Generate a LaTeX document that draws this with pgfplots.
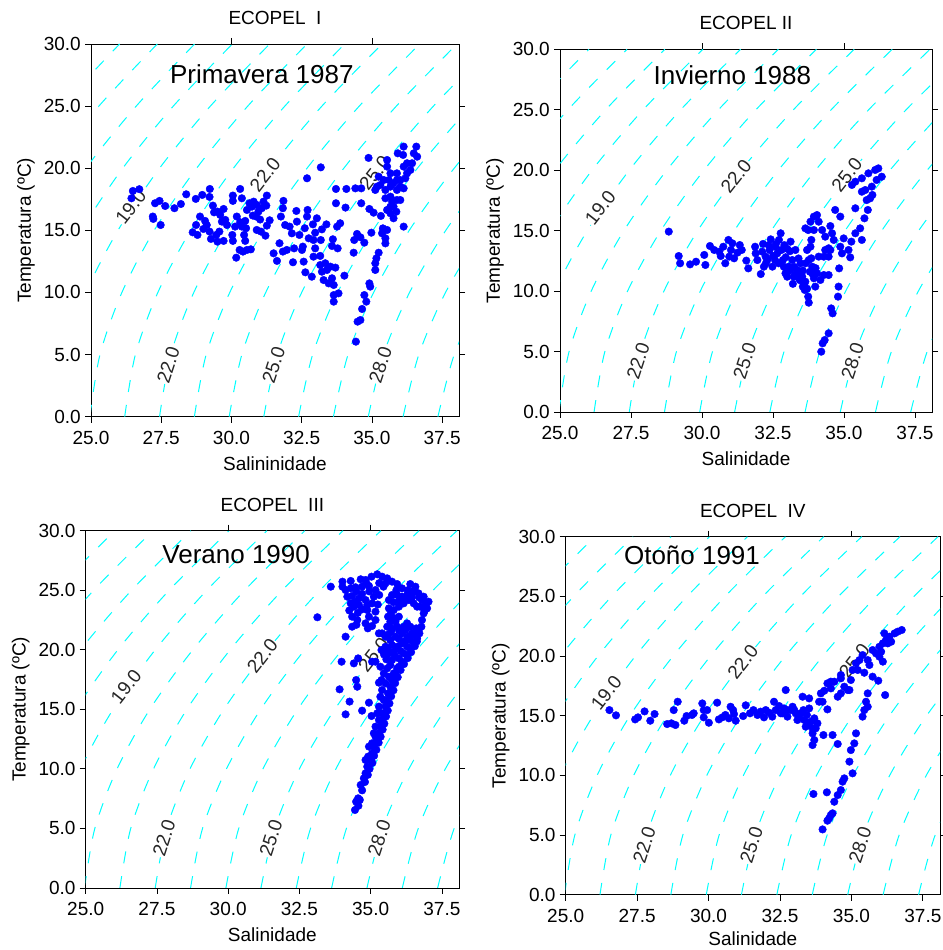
\documentclass[border=0pt]{standalone}
\usepackage{fontspec}
\setmainfont{Liberation Sans}
\usepackage{pgfplots}
\usepackage{pgfplotstable}
\pgfplotsset{compat=1.18}
\definecolor{isocyan}{RGB}{0,255,255}
\definecolor{ptblue}{RGB}{0,0,255}

\newcommand{\fs}{\fontsize{19}{22}\selectfont}
\newcommand{\fb}{\fontsize{26}{30}\selectfont}

\pgfplotstableread{
S T
26.49 18.17
26.72 18.31
26.44 17.58
27.20 16.11
27.22 15.92
27.48 15.43
27.28 17.18
27.44 17.37
27.64 16.96
27.97 16.78
28.20 17.12
28.39 17.90
28.73 17.53
28.96 17.85
29.23 18.33
29.22 17.69
28.62 14.84
28.74 15.43
28.79 14.63
28.88 16.11
29.06 15.76
29.00 15.11
29.12 15.43
29.22 14.90
29.27 14.31
29.34 16.99
29.38 16.45
29.50 16.51
29.50 14.09
29.72 16.72
29.60 16.24
29.78 15.84
29.66 15.70
29.84 15.43
29.57 14.90
29.46 14.63
29.72 14.15
30.03 14.63
30.05 14.15
30.19 16.11
30.31 15.65
30.13 15.30
30.37 15.30
30.49 15.76
30.52 15.17
30.45 14.63
30.49 14.15
30.29 13.42
30.41 13.29
30.55 13.42
30.69 13.47
30.17 12.80
30.05 17.80
30.05 17.37
30.31 18.33
30.37 17.58
30.55 16.64
30.64 17.18
30.73 16.91
30.79 17.31
30.90 17.04
30.96 16.51
30.88 16.11
30.76 16.19
31.02 15.87
31.08 16.78
31.14 17.31
31.26 17.80
31.24 16.99
31.36 15.81
31.26 15.38
30.90 15.03
31.05 14.90
31.21 14.57
31.50 13.15
31.62 12.54
31.71 13.96
31.76 16.11
31.83 16.78
31.85 17.37
31.91 15.43
31.83 13.29
31.97 13.42
32.07 15.30
32.15 14.76
32.23 13.55
32.19 12.43
32.31 16.56
32.33 15.70
32.42 14.63
32.51 13.42
32.57 12.48
32.63 11.62
32.69 16.11
32.71 16.64
32.54 13.69
32.61 15.17
32.75 14.36
32.69 19.19
33.04 15.97
32.90 15.48
32.98 14.81
33.22 15.08
33.38 15.48
32.92 14.22
33.18 14.22
32.98 13.55
33.61 14.28
33.58 13.74
33.78 13.55
33.76 15.30
33.87 15.57
32.92 12.88
33.16 12.94
32.86 11.27
33.16 12.21
33.34 12.35
33.52 12.08
33.70 12.00
33.22 11.67
33.40 11.81
33.28 11.00
33.46 10.73
33.64 10.60
33.58 11.14
34.02 11.35
33.64 9.79
33.81 9.93
33.64 9.26
34.35 13.20
34.37 14.22
34.47 14.71
34.59 14.44
34.73 14.01
34.98 14.81
35.24 13.20
35.16 12.75
35.12 12.35
35.12 11.81
34.91 10.73
34.94 10.47
34.73 9.79
34.80 9.26
34.65 8.67
34.59 7.78
34.49 7.65
34.43 6.04
33.18 20.07
33.72 18.33
34.09 18.33
34.41 18.38
34.62 18.38
33.72 17.18
34.06 16.83
34.62 17.18
34.88 20.83
34.91 16.72
35.06 16.42
35.32 16.16
35.54 20.66
35.54 20.13
35.92 21.20
36.13 21.74
36.58 21.74
36.61 20.93
36.11 21.07
36.49 21.20
36.43 20.40
35.24 19.32
35.18 18.52
35.12 18.25
35.42 19.05
35.66 19.59
35.89 19.59
36.13 20.13
36.25 20.40
36.37 19.86
36.01 19.05
35.66 18.52
35.48 18.25
35.66 17.71
35.89 17.44
35.77 16.91
36.01 17.44
35.54 16.64
35.66 16.37
35.77 15.97
36.13 18.38
35.39 15.16
35.54 15.03
35.36 14.76
35.48 14.36
35.48 13.95
36.13 15.30
35.89 19.05
35.77 18.79
36.01 18.52
35.89 18.25
35.60 19.05
35.72 17.31
35.87 16.50
35.66 16.91
35.48 17.58
35.30 18.65
36.25 19.59
36.19 19.19
}\dataA

\pgfplotstableread{
S T
28.83 14.92
29.18 12.90
29.23 12.30
29.58 12.21
29.79 12.43
30.08 12.99
30.12 12.16
30.28 13.73
30.43 13.40
30.61 13.26
30.66 12.90
30.82 12.30
30.75 13.67
30.93 14.23
31.02 13.40
31.07 13.95
30.96 12.85
31.13 12.71
31.25 13.18
31.33 13.81
31.40 13.40
31.56 12.52
31.63 11.88
31.87 13.67
31.89 13.12
31.95 12.57
32.07 11.41
32.18 12.02
32.12 13.26
32.24 12.85
32.30 12.57
32.38 13.40
32.42 14.28
32.48 12.02
32.57 12.57
32.59 13.67
32.65 13.12
32.71 14.23
32.77 14.78
32.80 13.40
32.85 12.57
32.88 12.02
32.94 11.47
33.00 11.19
33.06 12.02
33.12 14.09
33.18 12.57
33.23 11.19
33.29 13.40
33.35 11.74
33.41 11.06
33.47 12.30
33.53 11.19
33.55 10.37
33.64 10.78
33.62 10.09
33.74 9.54
33.76 9.04
33.70 13.40
33.76 12.57
33.88 12.02
33.94 11.06
34.05 11.47
33.99 10.37
34.17 10.92
34.29 11.33
34.46 11.33
33.85 12.71
33.82 13.67
33.85 14.23
33.74 15.05
33.64 15.19
33.82 15.74
33.94 16.16
34.05 16.29
34.11 15.74
33.94 15.05
34.23 15.05
34.34 14.50
34.11 12.85
34.29 12.85
34.46 13.54
34.52 13.40
34.58 14.78
34.64 14.23
34.52 15.38
34.69 16.71
34.87 16.16
34.34 13.40
34.46 12.85
34.87 13.67
34.93 13.12
34.99 14.36
34.83 11.88
34.81 10.37
34.79 9.54
34.55 8.57
34.60 8.16
34.46 6.51
34.32 5.95
34.25 5.68
34.20 4.99
35.16 13.40
35.22 12.79
35.26 14.09
35.40 14.78
35.57 15.19
35.63 14.23
35.72 16.02
35.84 16.71
35.40 16.85
35.63 18.22
35.80 17.53
35.92 17.67
36.00 17.95
35.28 18.78
35.40 19.05
35.63 19.33
35.86 19.74
36.10 20.02
36.21 20.15
36.33 19.46
36.15 19.19
35.98 18.64
35.75 18.36
32.50 12.90
32.70 12.30
32.95 12.80
33.10 13.30
33.25 12.00
33.40 12.70
33.55 11.70
33.65 12.30
33.30 11.40
33.50 11.50
33.80 11.60
33.60 10.60
33.70 10.20
33.45 10.90
32.60 13.90
32.90 13.80
33.00 13.50
32.35 13.80
32.15 13.90
32.25 12.30
33.20 10.60
33.90 11.40
34.00 11.90
33.10 11.70
}\dataB

\pgfplotstableread{
S T
33.13 22.73
33.60 25.30
34.01 25.72
34.30 25.78
34.65 25.92
34.82 25.86
35.03 26.14
35.23 26.34
35.40 26.14
35.58 26.00
35.75 25.72
35.93 25.52
35.52 25.58
34.01 25.30
34.12 25.02
34.30 25.16
34.47 25.25
34.70 25.30
34.94 25.36
35.17 25.02
34.18 24.46
34.35 24.52
34.59 24.32
34.82 24.18
34.30 23.90
34.41 23.62
34.59 23.76
34.88 23.76
35.11 24.46
34.35 22.78
34.53 22.50
34.35 21.94
34.88 23.34
34.94 22.78
34.82 22.22
35.17 23.20
35.17 22.50
34.12 21.10
35.05 19.00
33.98 19.00
34.41 18.86
34.56 19.28
34.49 17.46
34.53 16.90
33.91 16.68
34.26 15.65
34.12 14.58
34.70 14.89
34.94 15.56
35.03 14.44
35.17 19.00
35.34 18.58
35.29 17.24
35.38 19.98
35.29 21.38
36.10 25.16
36.39 25.52
36.57 25.30
36.68 24.74
36.86 24.46
37.03 24.04
36.98 23.48
36.86 23.06
36.80 22.50
36.78 21.94
36.71 21.38
36.63 20.96
36.51 20.54
36.39 20.12
36.28 19.56
36.10 19.00
35.99 18.58
35.87 18.02
35.75 17.46
35.69 16.90
35.61 16.34
35.54 15.78
35.52 15.23
35.46 14.67
35.40 14.11
35.34 13.55
35.29 12.99
35.23 12.43
35.11 11.87
35.05 11.31
35.00 10.75
34.88 10.19
34.82 9.63
34.76 9.21
34.65 8.65
34.56 7.53
34.49 7.25
34.45 6.55
35.64 24.18
35.75 24.60
35.93 24.60
36.10 24.46
36.28 24.60
36.45 24.88
36.34 24.18
36.16 23.90
35.99 23.62
35.81 23.34
35.64 23.48
35.61 22.78
35.69 22.36
35.87 22.36
35.99 22.78
35.93 21.94
35.75 21.80
35.58 21.94
35.40 21.38
35.52 21.10
35.69 20.82
35.87 21.10
36.10 21.38
36.22 21.66
36.39 21.94
36.63 23.62
36.51 23.90
36.28 22.22
36.16 21.94
36.74 23.62
36.92 23.62
36.80 24.18
35.52 20.26
35.64 19.70
35.75 19.14
35.69 18.72
35.58 18.44
35.46 18.02
35.64 17.74
35.81 18.02
35.93 18.44
35.99 19.28
36.16 19.70
36.28 20.26
36.39 20.82
36.45 21.38
36.28 20.96
36.10 20.54
35.93 20.26
35.81 19.84
35.38 17.46
35.52 17.18
35.40 16.62
35.34 16.06
35.46 15.78
35.29 15.23
35.23 14.67
35.38 14.67
35.29 14.11
35.17 13.55
35.11 12.99
35.17 12.71
35.05 12.15
34.94 11.87
34.91 11.03
34.82 10.75
35.05 11.03
34.57 6.90
34.62 7.40
34.70 8.20
34.80 8.90
34.90 9.50
34.96 10.00
35.06 10.50
35.12 11.10
35.20 11.60
35.28 12.20
35.35 12.70
35.42 13.30
35.48 13.80
35.54 14.40
35.60 14.90
35.66 15.50
35.72 16.10
35.80 16.60
35.86 17.20
35.95 17.70
36.05 18.30
36.17 18.80
36.30 19.30
36.42 19.80
36.55 20.30
36.62 20.70
36.68 21.60
36.90 23.30
36.95 23.90
36.70 24.40
36.45 24.40
36.20 24.20
36.00 24.10
35.80 24.00
35.70 23.00
35.78 22.70
35.72 21.50
35.62 21.30
36.00 21.60
36.00 20.90
36.20 20.70
35.75 20.40
35.60 20.00
35.47 19.60
35.55 19.20
35.85 19.50
36.05 19.90
36.30 21.10
36.55 21.20
36.60 21.80
35.90 25.00
36.30 25.00
36.55 24.90
35.45 25.30
35.30 25.60
34.85 25.60
34.50 24.90
34.70 24.70
34.95 24.90
34.45 24.00
34.70 23.40
34.55 23.10
34.25 23.30
34.50 22.10
35.05 23.90
35.05 22.00
34.90 21.80
35.25 23.80
35.30 24.60
}\dataC

\pgfplotstableread{
S T
26.53 15.47
26.76 15.03
27.43 14.69
27.53 14.86
27.76 15.36
27.96 14.58
28.11 15.14
28.55 14.30
28.70 14.36
28.84 14.22
28.78 15.47
28.92 16.17
29.15 14.58
29.23 14.97
29.42 15.06
29.48 15.20
29.78 16.03
29.83 15.47
29.83 14.86
30.01 14.41
29.95 15.47
30.30 16.09
30.36 14.69
30.48 14.86
30.59 15.06
30.71 14.78
30.77 15.75
30.86 15.47
30.95 14.58
30.89 15.14
31.30 15.87
31.21 14.97
31.45 15.20
31.57 15.47
31.71 15.06
31.82 15.34
32.00 15.47
31.94 14.86
32.12 15.25
32.23 14.92
32.29 16.17
32.35 15.47
32.47 15.81
32.58 15.20
32.64 15.61
32.70 17.15
32.76 14.92
32.88 15.47
32.94 15.75
33.05 15.20
33.17 14.86
33.29 16.59
33.32 15.47
33.35 14.64
33.44 15.06
33.52 15.61
33.46 14.22
33.52 16.45
33.58 14.50
33.64 13.94
33.64 13.52
33.70 14.78
33.81 14.36
33.64 12.54
33.70 12.96
33.75 13.94
33.87 16.17
33.93 16.87
33.99 16.17
34.05 17.09
34.16 15.53
34.02 13.38
34.16 17.71
34.28 17.29
34.40 17.85
34.34 13.38
34.52 12.63
34.52 16.59
34.63 16.87
34.63 18.41
34.75 17.43
34.87 17.15
34.98 17.99
34.93 17.15
35.04 18.83
35.16 19.39
35.28 19.66
35.39 20.08
35.45 18.60
35.57 19.66
35.63 19.25
35.74 20.50
35.86 20.22
35.98 20.78
35.98 19.94
36.10 21.06
36.21 21.34
36.33 21.62
36.39 21.20
36.51 21.90
36.62 22.04
36.76 22.18
36.15 21.90
36.10 19.53
35.74 18.27
35.94 17.93
36.18 16.73
35.57 16.87
35.51 16.17
35.57 15.75
35.39 14.92
35.45 15.47
35.16 13.52
35.10 12.68
34.98 12.12
34.93 11.15
35.04 10.17
34.75 9.75
34.69 9.47
34.63 8.77
34.52 8.35
34.40 7.79
34.34 6.82
34.28 6.68
34.22 6.40
34.16 6.20
33.99 5.47
33.67 8.44
34.14 8.58
34.28 17.85
34.63 18.13
35.22 18.83
36.27 21.06
36.04 20.36
32.53 15.20
32.76 15.47
33.00 15.47
33.23 15.20
33.11 14.64
33.40 14.08
}\dataD

\tikzset{lab/.style={fill=white, inner sep=1pt, font=\fs, text=black!85}}

\pgfplotsset{
  iso/.style={color=isocyan, line width=1pt, dash pattern=on 12pt off 13pt, smooth, no markers},
  pts/.style={only marks, mark=*, mark size=3.8pt, color=ptblue, mark options={fill=ptblue, draw=ptblue}},
  tsax/.style={
    scale only axis,
    xmin=25, xmax=38.1, ymin=0, ymax=30,
    xtick={25,27.5,30,32.5,35,37.5},
    xticklabels={25.0,27.5,30.0,32.5,35.0,37.5},
    ytick={0,5,10,15,20,25,30},
    yticklabels={0.0,5.0,10.0,15.0,20.0,25.0,30.0},
    tick align=outside,
    xtick pos=left, ytick pos=left,
    major tick length=6pt,
    every tick/.style={black, line width=0.8pt},
    axis line style={black, line width=0.8pt},
    ticklabel style={font=\fs},
    yticklabel style={anchor=east, inner sep=0pt, xshift=-4pt},
    xticklabel style={anchor=north, inner sep=0pt, yshift=-8pt},
    every axis title/.style={at={(0.5,1)}, anchor=center, yshift=26pt, font=\fs},
    every axis x label/.style={at={(0.5,0)}, anchor=center, yshift=-47pt, font=\fs},
    every axis y label/.style={at={(0,0.5)}, xshift=-65pt, rotate=90, anchor=center, font=\fs},
  },
  tstk/.style={
    scale only axis,
    xmin=25, xmax=38.1, ymin=0, ymax=30,
    axis line style={draw=none},
    xtick={30,35}, ytick={5,10,15,20,25},
    xtick pos=right, ytick pos=right,
    tick align=outside,
    xticklabels={}, yticklabels={},
    major tick length=6pt,
    every tick/.style={black, line width=0.8pt},
  },
}

\newcommand{\isolines}{%
\addplot[iso] coordinates {(18.77,0)(19.02,5)(19.70,10)(20.77,15)(22.20,20)(23.96,25)(26.02,30)};
\addplot[iso] coordinates {(20.01,0)(20.28,5)(20.98,10)(22.07,15)(23.51,20)(25.28,25)(27.36,30)};
\addplot[iso] coordinates {(21.25,0)(21.54,5)(22.26,10)(23.36,15)(24.82,20)(26.61,25)(28.69,30)};
\addplot[iso] coordinates {(22.48,0)(22.80,5)(23.54,10)(24.66,15)(26.13,20)(27.93,25)(30.03,30)};
\addplot[iso] coordinates {(23.72,0)(24.06,5)(24.82,10)(25.96,15)(27.44,20)(29.25,25)(31.36,30)};
\addplot[iso] coordinates {(24.96,0)(25.32,5)(26.10,10)(27.25,15)(28.76,20)(30.58,25)(32.69,30)};
\addplot[iso] coordinates {(26.20,0)(26.58,5)(27.38,10)(28.55,15)(30.07,20)(31.90,25)(34.03,30)};
\addplot[iso] coordinates {(27.44,0)(27.84,5)(28.66,10)(29.85,15)(31.38,20)(33.22,25)(35.36,30)};
\addplot[iso] coordinates {(28.68,0)(29.10,5)(29.94,10)(31.14,15)(32.69,20)(34.55,25)(36.70,30)};
\addplot[iso] coordinates {(29.92,0)(30.37,5)(31.22,10)(32.44,15)(34.00,20)(35.87,25)(38.03,30)};
\addplot[iso] coordinates {(31.15,0)(31.63,5)(32.50,10)(33.74,15)(35.31,20)(37.19,25)(39.36,30)};
\addplot[iso] coordinates {(32.39,0)(32.89,5)(33.78,10)(35.04,15)(36.62,20)(38.52,25)};
\addplot[iso] coordinates {(33.63,0)(34.15,5)(35.06,10)(36.33,15)(37.93,20)(39.84,25)};
\addplot[iso] coordinates {(34.87,0)(35.41,5)(36.34,10)(37.63,15)(39.24,20)};
\addplot[iso] coordinates {(36.11,0)(36.67,5)(37.62,10)(38.93,15)};
\addplot[iso] coordinates {(37.35,0)(37.93,5)(38.90,10)};
\node[lab, rotate=52] at (axis cs:26.42,16.9) {19.0};
\node[lab, rotate=52] at (axis cs:31.2,19.5) {22.0};
\node[lab, rotate=52] at (axis cs:35.1,19.6) {25.0};
\node[lab, rotate=72] at (axis cs:27.75,4.2) {22.0};
\node[lab, rotate=72] at (axis cs:31.5,4.2) {25.0};
\node[lab, rotate=72] at (axis cs:35.3,4.2) {28.0};
}

\begin{document}
\begin{tikzpicture}
\path[use as bounding box] (0pt,0pt) rectangle (942pt,950pt);

% Panel 1
\begin{axis}[tsax, at={(91pt,906pt)}, anchor=north west, width=368pt, height=372.7pt,
  title={ECOPEL\ \ I}, xlabel={Salininidade}, ylabel={Temperatura (ºC)}]
\isolines
\addplot[pts] table[x=S, y=T] {\dataA};
\node[font=\fb] at (axis cs:31.08,27.6) {Primavera 1987};
\end{axis}
\begin{axis}[tstk, at={(91pt,906pt)}, anchor=north west, width=368pt, height=372.7pt]
\addplot[draw=none] coordinates {(26,1)};
\end{axis}

% Panel 2
\begin{axis}[tsax, at={(560pt,900.7pt)}, anchor=north west, width=372pt, height=362.7pt,
  title={ECOPEL II}, xlabel={Salinidade}, ylabel={Temperatura (ºC)}]
\isolines
\addplot[pts] table[x=S, y=T] {\dataB};
\node[font=\fb] at (axis cs:31.07,27.87) {Invierno 1988};
\end{axis}
\begin{axis}[tstk, at={(560pt,900.7pt)}, anchor=north west, width=372pt, height=362.7pt]
\addplot[draw=none] coordinates {(26,1)};
\end{axis}

% Panel 3
\begin{axis}[tsax, at={(85.7pt,419.3pt)}, anchor=north west, width=373.3pt, height=357.3pt,
  title={ECOPEL\ \ III}, xlabel={Salinidade}, ylabel={Temperatura (ºC)}]
\isolines
\addplot[pts] table[x=S, y=T] {\dataC};
\node[font=\fb] at (axis cs:30.28,27.96) {Verano 1990};
\end{axis}
\begin{axis}[tstk, at={(85.7pt,419.3pt)}, anchor=north west, width=373.3pt, height=357.3pt]
\addplot[draw=none] coordinates {(26,1)};
\end{axis}

% Panel 4
\begin{axis}[tsax, at={(565.7pt,413.3pt)}, anchor=north west, width=374.3pt, height=358pt,
  title={ECOPEL\ \ IV}, xlabel={Salinidade}, ylabel={Temperatura (ºC)},
  every axis x label/.append style={yshift=3pt}]
\isolines
\addplot[pts] table[x=S, y=T] {\dataD};
\node[font=\fb] at (axis cs:29.42,28.46) {Otoño 1991};
\end{axis}
\begin{axis}[tstk, at={(565.7pt,413.3pt)}, anchor=north west, width=374.3pt, height=358pt]
\addplot[draw=none] coordinates {(26,1)};
\end{axis}
\end{tikzpicture}
\end{document}
